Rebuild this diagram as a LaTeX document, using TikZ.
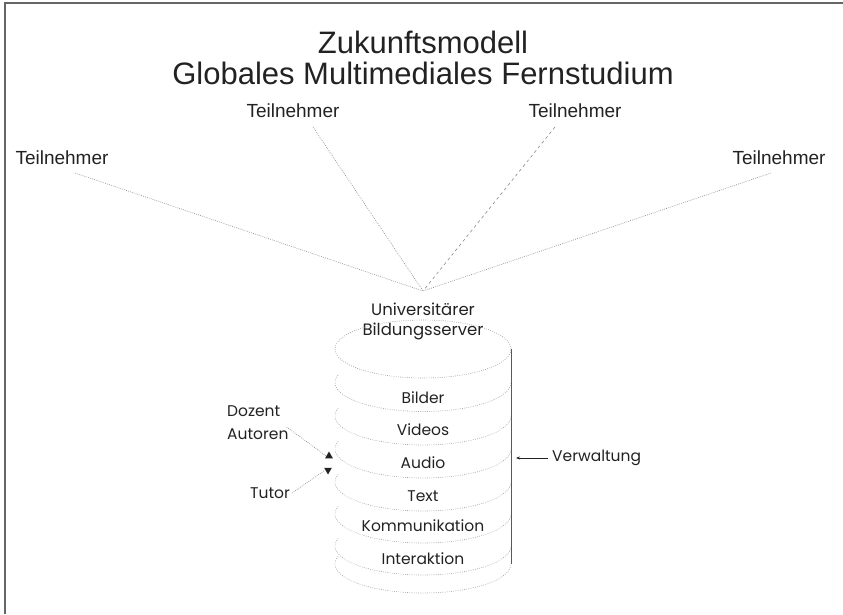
\documentclass[tikz,border=0pt]{standalone}
\usepackage{fontspec}
\setmainfont{Liberation Sans}
\newfontfamily\geo{Poppins}
\usetikzlibrary{arrows.meta,shapes.geometric}
\definecolor{ink}{HTML}{222222}
\definecolor{dotgray}{HTML}{8A8A8A}
\begin{document}
\begin{tikzpicture}[x=1pt,y=1pt,
  titletext/.style={font=\fontsize{31}{36}\selectfont,text=ink,inner sep=0pt},
  parttext/.style={font=\fontsize{19}{22}\selectfont,text=ink,inner sep=0pt},
  layertext/.style={font=\geo\fontsize{15.5}{23}\selectfont,text=ink,inner sep=0pt},
  srvtext/.style={font=\geo\fontsize{16.5}{20}\selectfont,text=ink,inner sep=0pt},
  dotline/.style={draw=dotgray,line width=0.6pt,dash pattern=on 0.8pt off 1.2pt},
  dashline/.style={draw=dotgray,line width=0.6pt,dash pattern=on 3pt off 3pt},
  arcline/.style={draw=dotgray!85,line width=0.6pt,dash pattern=on 0.8pt off 1.4pt},
  tri/.style={regular polygon,regular polygon sides=3,fill=ink,inner sep=0pt,minimum size=9pt}
]
\useasboundingbox (0,0) rectangle (843,614);
% frame
\draw[draw=gray!80!black,line width=1.2pt] (5,0) -- (5,611) -- (843,611);
% title
\node[titletext] (title1) at (423,572) {Zukunftsmodell};
\node[titletext] (title2) at (423,541) {Globales Multimediales Fernstudium};
% participants
\node[parttext] (t1) at (62,456) {Teilnehmer};
\node[parttext] (t2) at (293,503) {Teilnehmer};
\node[parttext] (t3) at (575,503) {Teilnehmer};
\node[parttext] (t4) at (779,456) {Teilnehmer};
\coordinate (hub) at (423,323);
\coordinate (s1) at (75,441);
\coordinate (s2) at (313,487);
\coordinate (s3) at (555,487);
\coordinate (s4) at (771,441);
\draw[dotline] (s1) -- (hub);
\draw[dotline] (s2) -- (hub);
\draw[dashline] (s3) -- (hub);
\draw[dotline] (s4) -- (hub);
% server label
\node[srvtext] (uni) at (423,305) {Universitärer};
\node[srvtext] (bild) at (423,283) {Bildungsserver};
% cylinder
\draw[arcline] (423,265) ellipse [x radius=88pt, y radius=29pt];
\foreach \yc in {231.5,198,165,132,100,68,50}{
  \draw[arcline] (423,\yc) ++(165:88pt and 29pt) arc[start angle=165,end angle=360,x radius=88pt,y radius=29pt];
}
\draw[draw=gray!70!black,line width=0.8pt] (511,265) -- (511,50);
% layer labels
\node[layertext] (l1) at (423,216) {Bilder};
\node[layertext] (l2) at (423,184) {Videos};
\node[layertext] (l3) at (423,151) {Audio};
\node[layertext] (l4) at (423,118) {Text};
\node[layertext] (l5) at (423,88) {Kommunikation};
\node[layertext] (l6) at (423,55) {Interaktion};
% Verwaltung
\node[layertext,anchor=west] (verw) at (552,156) {Verwaltung};
\coordinate (vtip) at (516,156);
\draw[draw=ink,line width=0.6pt,-{Stealth[length=4pt,width=3pt]}] (verw.west) ++(-4,0) -- (vtip);
% Dozent / Tutor
\node[layertext,align=left,anchor=west] (doz) at (227,191) {Dozent\\Autoren};
\node[layertext,anchor=west] (tut) at (250,121) {Tutor};
\node[tri,shape border rotate=0] (up) at (329,158) {};
\node[tri,shape border rotate=180] (dn) at (328,144) {};
\draw[dotline] (doz.east) ++(-2,-4) -- (up.west);
\draw[dotline] (tut.east) ++(2,0) -- (dn.west);
\end{tikzpicture}
\end{document}
